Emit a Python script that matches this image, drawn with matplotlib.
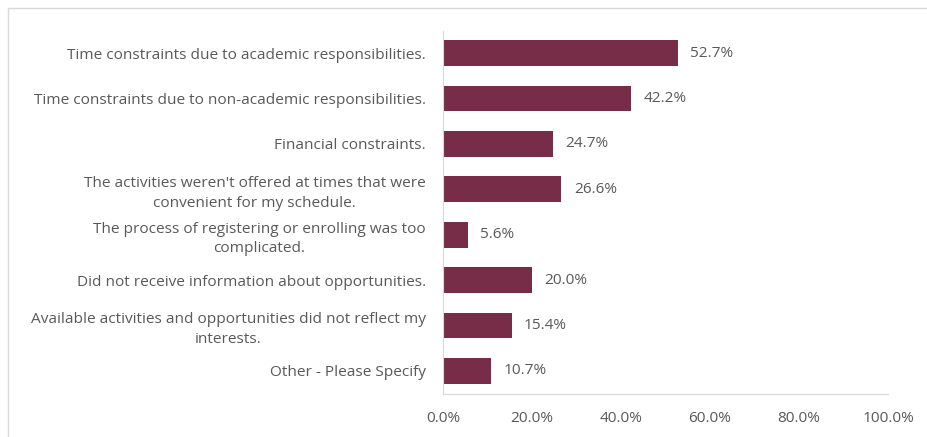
"""
Barriers to participation - horizontal bar chart
"""

import numpy as np
from matplotlib import pyplot as plt
from matplotlib.patches import Rectangle

categories = [
    "Time constraints due to academic responsibilities.",
    "Time constraints due to non-academic responsibilities.",
    "Financial constraints.",
    "The activities weren't offered at times that were\nconvenient for my schedule.",
    "The process of registering or enrolling was too\ncomplicated.",
    "Did not receive information about opportunities.",
    "Available activities and opportunities did not reflect my\ninterests.",
    "Other - Please Specify",
]
values = [52.7, 42.2, 24.7, 26.6, 5.6, 20.0, 15.4, 10.7]
xticks = [0, 20, 40, 60, 80, 100]

barColor = "#772C47"
textColor = "#595959"
lineColor = "#D9D9D9"
fs = 11.1

plt.rcParams["font.family"] = ["Open Sans", "DejaVu Sans"]

fig = plt.figure(figsize=(9.28, 4.37), dpi=100)
ax = fig.add_axes([443 / 928, 1 - 393.5 / 437, 445 / 928, 363 / 437])

ys = np.arange(len(categories))
ax.barh(ys, values, height=0.57, color=barColor)
ax.set_ylim(len(categories) - 0.5, -0.5)
ax.set_xlim(0, 100)

for y, v in zip(ys, values):
    ax.text(v + 2.8, y, f"{v:.1f}%", va="center", ha="left",
            fontsize=fs, color=textColor)

ax.set_yticks(ys)
ax.set_yticklabels(categories, fontsize=fs, color=textColor,
                   multialignment="center", linespacing=1.4)
ax.set_xticks(xticks)
ax.set_xticklabels([f"{t:.1f}%" for t in xticks], fontsize=fs, color=textColor)
ax.tick_params(axis="both", length=0)
ax.tick_params(axis="y", pad=12.5)
ax.tick_params(axis="x", pad=12.5)

for side in ["top", "right"]:
    ax.spines[side].set_visible(False)
ax.spines["left"].set_color(lineColor)
ax.spines["bottom"].set_color(lineColor)

# chart area border
fig.patches.append(Rectangle((8 / 928, -0.01), 1.0, 1 - 8 / 437 + 0.01,
                             transform=fig.transFigure, fill=False,
                             edgecolor=lineColor, linewidth=1.0))

fig.savefig("out.png", dpi=100)
